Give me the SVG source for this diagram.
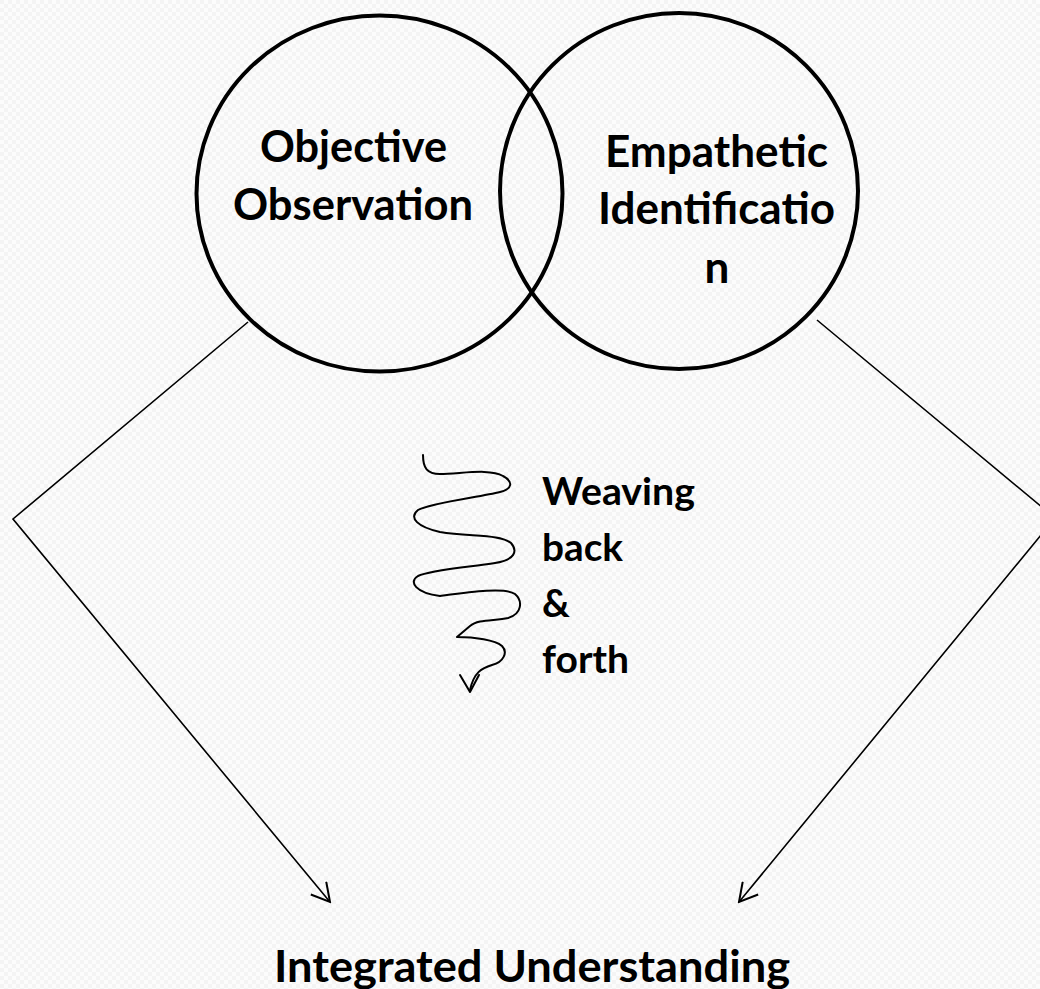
<svg xmlns="http://www.w3.org/2000/svg" width="1040" height="989" viewBox="0 0 1040 989">
  <style>
    .ring { fill: none; stroke: #000; stroke-width: 4; }
    .lbl { font-family: Lato, "Open Sans", "Liberation Sans", sans-serif; font-weight: bold; fill: #000; }
    .big { font-size: 44px; }
    .mid { font-size: 38.5px; }
    .conn { fill: none; stroke: #000; stroke-width: 1.6; }
    .wave { fill: none; stroke: #000; stroke-width: 2; stroke-linecap: round; stroke-linejoin: round; }
  </style>
  <defs>
    <pattern id="tex" width="8" height="8" patternUnits="userSpaceOnUse">
      <rect width="8" height="8" fill="#fcfcfc"/>
      <rect width="4" height="4" fill="#f4f4f4"/>
      <rect x="4" y="4" width="4" height="4" fill="#f4f4f4"/>
    </pattern>
    <marker id="open" viewBox="0 0 22 22" refX="20" refY="11" markerWidth="22" markerHeight="22" markerUnits="userSpaceOnUse" orient="auto">
      <path d="M2,1 L20,11 L2,21" fill="none" stroke="#000" stroke-width="2"/>
    </marker>
  </defs>
  <rect width="1040" height="989" fill="url(#tex)"/>

  <g id="connectors">
    <path class="conn" d="M248,322 L13,519 L330,902" marker-end="url(#open)"/>
    <path class="conn" d="M817,320 L1055,518 L739,902" marker-end="url(#open)"/>
  </g>

  <g id="objective-observation">
    <ellipse class="ring" cx="379.5" cy="193.5" rx="183" ry="178"/>
    <text class="lbl big" x="353.5" y="162" text-anchor="middle" textLength="187" lengthAdjust="spacingAndGlyphs">Objective</text>
    <text class="lbl big" x="353" y="220" text-anchor="middle" textLength="240" lengthAdjust="spacingAndGlyphs">Observation</text>
  </g>

  <g id="empathetic-identification">
    <ellipse class="ring" cx="679" cy="191" rx="179" ry="178"/>
    <text class="lbl big" x="716.5" y="167" text-anchor="middle" textLength="223" lengthAdjust="spacingAndGlyphs">Empathetic</text>
    <text class="lbl big" x="716.5" y="224" text-anchor="middle" textLength="237" lengthAdjust="spacingAndGlyphs">Identificatio</text>
    <text class="lbl big" x="717" y="283" text-anchor="middle">n</text>
  </g>

  <g id="weaving">
    <path class="wave" d="M423,455 C423,468 427,474 440,474 C460,474 490,468 503,476 C514,482 512,489 500,492 C480,497 430,503 418,510 C408,518 418,527 440,532 C470,537 500,534 511,543 C518,551 515,560 495,563 C470,567 430,570 418,576 C408,582 416,593 440,596 C470,592 505,587 515,594 C523,601 522,614 508,618 C495,621 478,619 470,626 L457,637 C475,637 495,640 502,646 C508,652 504,662 492,665 C482,668 474,672 470,690"/>
    <path class="wave" d="M460,675 L470,692 L479,675"/>
    <text class="lbl mid" x="542" y="505" textLength="153" lengthAdjust="spacingAndGlyphs">Weaving</text>
    <text class="lbl mid" x="542" y="561" textLength="81" lengthAdjust="spacingAndGlyphs">back</text>
    <text class="lbl mid" x="542" y="617">&amp;</text>
    <text class="lbl mid" x="542" y="673" textLength="87" lengthAdjust="spacingAndGlyphs">forth</text>
  </g>

  <g id="integrated-understanding">
    <text class="lbl big" x="274" y="982" textLength="516" lengthAdjust="spacingAndGlyphs">Integrated Understanding</text>
  </g>
</svg>
